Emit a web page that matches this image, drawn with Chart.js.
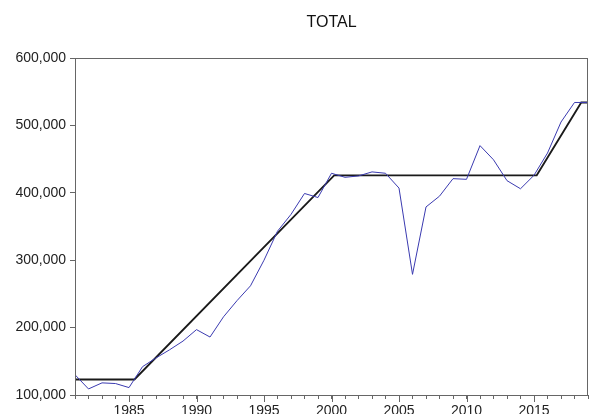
<!DOCTYPE html>
<html>
<head>
<meta charset="utf-8">
<script src="https://cdn.jsdelivr.net/npm/chart.js@4.4.1/dist/chart.umd.min.js"></script>
<style>
html,body{margin:0;padding:0;background:#fff;}
#wrap{width:592px;height:414px;}
</style>
</head>
<body>
<div id="wrap"><canvas id="c" width="592" height="414"></canvas></div>
<script>
const chartTitle = "TOTAL";
const years = [1981,1982,1983,1984,1985,1986,1987,1988,1989,1990,1991,1992,1993,1994,1995,1996,1997,1998,1999,2000,2001,2002,2003,2004,2005,2006,2007,2008,2009,2010,2011,2012,2013,2014,2015,2016,2017,2018,2019];
const totals = [130000,109000,118000,117000,111000,142000,155000,167000,180000,197000,186000,216000,240000,262000,300000,343000,368000,399000,393000,429000,423000,425000,431000,429000,407000,279000,379000,395000,421000,420000,470000,449000,418000,406000,426000,459000,505000,534000,534000];
const fitYears = [1981,1985.4,2000.2,2015.2,2018.5,2019];
const fitValues = [123000,123000,426000,426000,534000,534000];
const yTicks = [100000,200000,300000,400000,500000,600000];
const majorEvery = 5;

const blueData = years.map((y,i)=>({x:y,y:totals[i]}));
const fitData = fitYears.map((y,i)=>({x:y,y:fitValues[i]}));

const frame = {
  id:'frame',
  afterDraw(chart){
    const a = chart.chartArea, ctx = chart.ctx, xs = chart.scales.x;
    ctx.save();
    ctx.strokeStyle = '#666';
    ctx.lineWidth = 1;
    ctx.strokeRect(Math.round(a.left)+0.5, Math.round(a.top)+0.5, Math.round(a.right-a.left)-1, Math.round(a.bottom-a.top));
    // longer major ticks on x axis
    ctx.beginPath();
    xs.ticks.forEach(t=>{
      if (t.value % majorEvery === 0) {
        const px = Math.round(xs.getPixelForValue(t.value))+0.5;
        ctx.moveTo(px, a.bottom);
        ctx.lineTo(px, a.bottom+7);
      }
    });
    ctx.stroke();
    ctx.fillStyle = '#111';
    ctx.font = '16px "Liberation Sans", Arial, sans-serif';
    ctx.textAlign = 'center';
    ctx.textBaseline = 'middle';
    ctx.fillText(chartTitle, (a.left+a.right)/2, 23);
    ctx.restore();
  }
};

new Chart(document.getElementById('c'), {
  type:'line',
  data:{datasets:[
    {data:blueData,borderColor:'#3a3ab0',borderWidth:1,pointRadius:0,tension:0,fill:false},
    {data:fitData,borderColor:'#1a1a1a',borderWidth:1.8,pointRadius:0,tension:0,fill:false}
  ]},
  options:{
    responsive:false,
    animation:false,
    layout:{padding:{top:58,right:2,left:0,bottom:0}},
    plugins:{legend:{display:false},title:{display:false},tooltip:{enabled:false}},
    scales:{
      x:{
        type:'linear',min:1981,max:2019,
        afterFit(s){s.height=19;},
        grid:{drawOnChartArea:false,tickLength:4,color:'#666'},
        border:{color:'#666'},
        ticks:{stepSize:1,autoSkip:false,maxRotation:0,padding:4,color:'#222',
          font:{family:'"Liberation Sans", Arial, sans-serif',size:14},
          callback:(v)=> (v%majorEvery===0 ? String(v) : '')}
      },
      y:{
        min:100000,max:600000,
        afterFit(s){s.width=75;},
        afterBuildTicks(s){s.ticks = yTicks.map(v=>({value:v}));},
        grid:{drawOnChartArea:false,tickLength:5,color:'#666'},
        border:{color:'#666'},
        ticks:{padding:4,color:'#222',
          font:{family:'"Liberation Sans", Arial, sans-serif',size:14},
          callback:(v)=> Number(v).toLocaleString('en-US')}
      }
    }
  },
  plugins:[frame]
});
</script>
</body>
</html>
